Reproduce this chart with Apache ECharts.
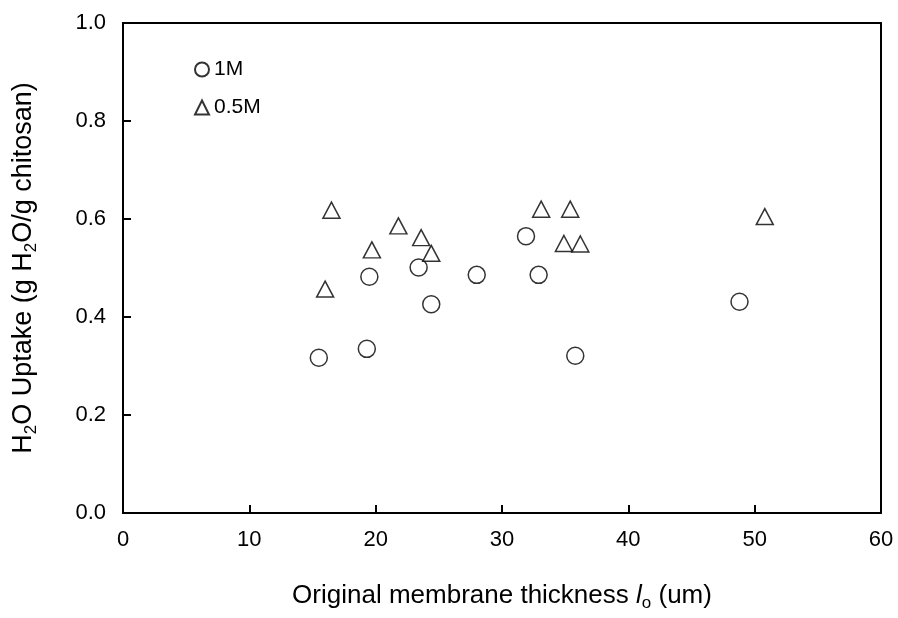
<!DOCTYPE html>
<html>
<head>
<meta charset="utf-8">
<script src="https://cdn.jsdelivr.net/npm/echarts@6/dist/echarts.min.js"></script>
<style>html,body{margin:0;padding:0;background:#fff}#c{width:898px;height:618px}</style>
</head>
<body>
<div id="c"></div>
<script>
var x1M = [15.5, 19.3, 19.5, 23.4, 24.4, 28.0, 31.9, 32.9, 35.8, 48.8];
var y1M = [0.317, 0.335, 0.482, 0.501, 0.426, 0.486, 0.565, 0.486, 0.321, 0.431];
var x05M = [16.0, 16.5, 19.7, 21.8, 23.6, 24.4, 33.1, 34.9, 35.4, 36.2, 50.8];
var y05M = [0.457, 0.618, 0.537, 0.586, 0.562, 0.530, 0.620, 0.550, 0.620, 0.549, 0.605];
var xTicks = [0, 10, 20, 30, 40, 50, 60];
var yTicks = [0.0, 0.2, 0.4, 0.6, 0.8, 1.0];
var seriesNames = ['1M', '0.5M'];

function pairs(xs, ys) { return xs.map(function (x, i) { return [x, ys[i]]; }); }

var FONT = '"Liberation Sans", Arial, sans-serif';
var chart = echarts.init(document.getElementById('c'), null, {renderer: 'canvas'});
chart.setOption({
  animation: false,
  backgroundColor: '#fff',
  textStyle: {fontFamily: FONT, color: '#000'},
  grid: {left: 123, top: 23, right: 17, bottom: 105, show: true, borderColor: '#000', borderWidth: 2, backgroundColor: 'transparent'},
  legend: {
    orient: 'vertical', left: 189, top: 54, itemGap: 17, itemWidth: 14, itemHeight: 14,
    textStyle: {fontFamily: FONT, fontSize: 21, color: '#000'},
    data: [{name: seriesNames[0], icon: 'circle'}, {name: seriesNames[1], icon: 'triangle'}]
  },
  xAxis: {
    type: 'value', min: xTicks[0], max: xTicks[xTicks.length - 1], interval: 10,
    axisLine: {lineStyle: {color: '#000', width: 2}},
    axisTick: {inside: true, length: 8, lineStyle: {color: '#000', width: 2}},
    splitLine: {show: false},
    axisLabel: {fontFamily: FONT, fontSize: 22, color: '#000', margin: 16},
    name: '{n|Original membrane thickness }{i|l}{s|o}{n| (um)}',
    nameLocation: 'middle', nameGap: 66,
    nameTextStyle: {
      rich: {
        n: {fontFamily: FONT, fontSize: 26, color: '#000'},
        i: {fontFamily: FONT, fontSize: 26, color: '#000', fontStyle: 'italic'},
        s: {fontFamily: FONT, fontSize: 17, color: '#000', padding: [16, 0, 0, 0]}
      }
    }
  },
  yAxis: {
    type: 'value', min: yTicks[0], max: yTicks[yTicks.length - 1], interval: 0.2,
    axisLine: {lineStyle: {color: '#000', width: 2}},
    axisTick: {inside: true, length: 8, lineStyle: {color: '#000', width: 2}},
    splitLine: {show: false},
    axisLabel: {fontFamily: FONT, fontSize: 22, color: '#000', margin: 17, formatter: function (v) { return v.toFixed(1); }},
    name: '{n|H}{s|2}{n|O Uptake (g H}{s|2}{n|O/g chitosan)}',
    nameLocation: 'middle', nameGap: 83, nameRotate: 90,
    nameTextStyle: {
      rich: {
        n: {fontFamily: FONT, fontSize: 27, color: '#000'},
        s: {fontFamily: FONT, fontSize: 17, color: '#000', padding: [16, 0, 0, 0]}
      }
    }
  },
  series: [
    {
      name: seriesNames[0], type: 'scatter', symbol: 'circle', symbolSize: 17,
      itemStyle: {color: '#fff', borderColor: '#000', borderWidth: 1.5},
      data: pairs(x1M, y1M)
    },
    {
      name: seriesNames[1], type: 'scatter', symbol: 'triangle', symbolSize: [17, 16],
      itemStyle: {color: '#fff', borderColor: '#000', borderWidth: 1.5},
      data: pairs(x05M, y05M)
    }
  ]
});
</script>
</body>
</html>
